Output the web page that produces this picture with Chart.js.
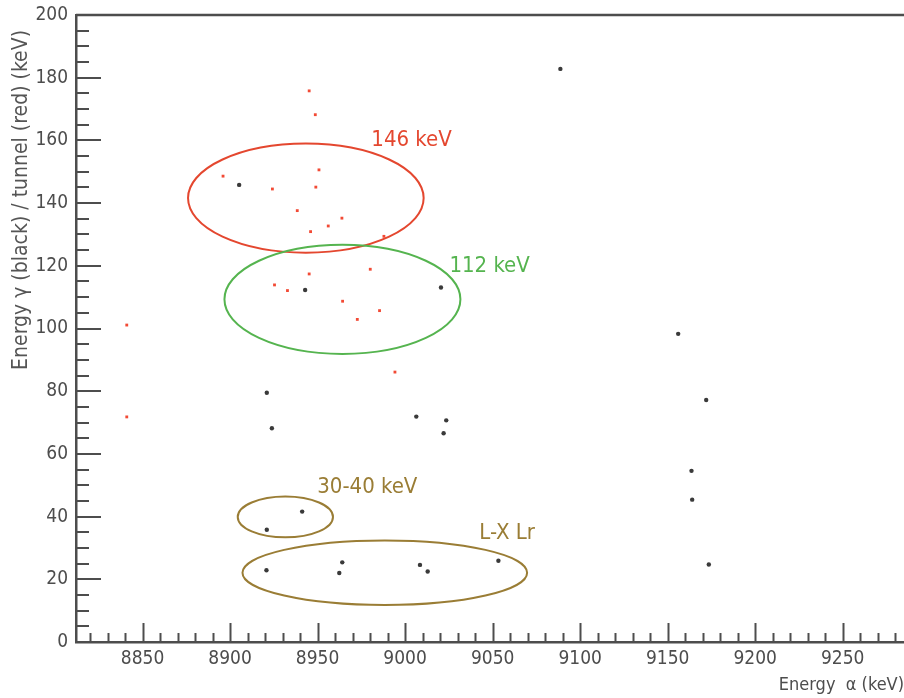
<!DOCTYPE html>
<html>
<head>
<meta charset="utf-8">
<script src="https://cdn.jsdelivr.net/npm/chart.js@4.4.1/dist/chart.umd.min.js"></script>
<style>
  html, body { margin: 0; padding: 0; background: #fff; }
  #wrap { width: 904px; height: 698px; }
</style>
</head>
<body>
<div id="wrap"><canvas id="chart" width="904" height="698"></canvas></div>
<script>
// gamma energies in coincidence with alphas (black)
var blackX = [8905.2, 8942.9, 9020.5, 9088.7, 8921.0, 8923.9, 9006.4, 9023.5, 9022.0, 9156.0, 9172.0,
              9163.6, 9164.0, 9173.5, 8941.2, 8921.0, 8920.8, 8964.1, 8962.4, 9008.5, 9012.9, 9053.3];
var blackY = [145.8, 112.3, 113.1, 182.8, 79.5, 68.2, 71.9, 70.7, 66.6, 98.3, 77.2,
              54.6, 45.4, 24.7, 41.6, 35.8, 22.9, 25.4, 22.0, 24.6, 22.5, 25.9];
// tunnel energies (red)
var redX = [8945.2, 8948.7, 8896.0, 8924.2, 8950.8, 8949.0, 8938.4, 8963.9, 8956.1, 8946.0, 8987.9,
            8945.2, 8980.1, 8925.4, 8932.8, 8964.3, 8985.4, 8972.7, 8994.2, 8841.0, 8841.0];
var redY = [175.8, 168.2, 148.6, 144.5, 150.6, 145.1, 137.6, 135.2, 132.7, 130.9, 129.4,
            117.4, 118.9, 113.9, 112.1, 108.7, 105.7, 102.9, 86.1, 101.1, 71.8];

// ellipses marking the groups + their labels
var groupNames  = ["146 keV", "112 keV", "30-40 keV", "L-X Lr"];
var groupColors = ["#e4472f", "#55b44f", "#9a7d35", "#9a7d35"];
var ellCx = [8943.3, 8964.2, 8931.6, 8988.4];
var ellCy = [141.6, 109.3, 39.9, 22.1];
var ellRx = [67.3, 67.4, 27.2, 81.3];
var ellRy = [17.4, 17.4, 6.5, 10.3];
var labelX = [8980.7, 9025.3, 8949.8, 9042.4];
var labelY = [160.1, 119.9, 49.4, 34.8];

var xMin = 8812, xMax = 9285, yMin = 0, yMax = 200;
var axisColor = "#4d4d4d";
var fontFam = "'Liberation Sans Narrow', 'DejaVu Sans Condensed', sans-serif";

function toPoints(xs, ys) {
    return xs.map(function (x, i) { return { x: x, y: ys[i] }; });
}

function noPad(s) {
    s.paddingLeft = 0; s.paddingRight = 0; s.paddingTop = 0; s.paddingBottom = 0;
}

// draws inward ticks, top frame, ellipses and their labels, y title
var decor = {
    id: "decor",
    beforeDatasetsDraw: function (chart) {
        var c = chart.ctx, a = chart.chartArea;
        var xs = chart.scales.x, ys = chart.scales.y;
        c.save();
        c.strokeStyle = axisColor;
        c.lineWidth = 2;
        xs.ticks.forEach(function (t) {
            var px = Math.round(xs.getPixelForValue(t.value)) + 0.5;
            var len = t.value % 50 === 0 ? 19 : 9;
            c.beginPath(); c.moveTo(px, a.bottom); c.lineTo(px, a.bottom - len); c.stroke();
        });
        ys.ticks.forEach(function (t) {
            var py = Math.round(ys.getPixelForValue(t.value));
            var len = t.value % 20 === 0 ? 25 : 13;
            c.beginPath(); c.moveTo(a.left, py); c.lineTo(a.left + len, py); c.stroke();
        });
        // top frame line
        c.lineWidth = 2.5;
        c.beginPath(); c.moveTo(a.left, a.top); c.lineTo(a.right, a.top); c.stroke();

        // ellipses
        c.lineWidth = 2;
        for (var i = 0; i < groupNames.length; i++) {
            var cx = xs.getPixelForValue(ellCx[i]), cy = ys.getPixelForValue(ellCy[i]);
            var rx = Math.abs(xs.getPixelForValue(ellCx[i] + ellRx[i]) - cx);
            var ry = Math.abs(ys.getPixelForValue(ellCy[i] + ellRy[i]) - cy);
            c.strokeStyle = groupColors[i];
            c.beginPath(); c.ellipse(cx, cy, rx, ry, 0, 0, Math.PI * 2); c.stroke();
            c.fillStyle = groupColors[i];
            c.font = "22px " + fontFam;
            c.textAlign = "left"; c.textBaseline = "middle";
            c.fillText(groupNames[i], xs.getPixelForValue(labelX[i]), ys.getPixelForValue(labelY[i]));
        }

        // y axis title
        c.translate(22, 30);
        c.rotate(-Math.PI / 2);
        c.fillStyle = "#555";
        c.font = "21px " + fontFam;
        c.textAlign = "right"; c.textBaseline = "middle";
        c.fillText("Energy \u03b3 (black) / tunnel (red) (keV)", 0, 0);
        c.restore();
    }
};

var ctx = document.getElementById("chart").getContext("2d");
var chart = new Chart(ctx, {
    type: "scatter",
    data: {
        datasets: [
            {
                label: "gamma",
                data: toPoints(blackX, blackY),
                backgroundColor: "#3a3a3a",
                borderWidth: 0,
                pointRadius: 2.2,
                pointStyle: "circle"
            },
            {
                label: "tunnel",
                data: toPoints(redX, redY),
                backgroundColor: "#f24a35",
                borderWidth: 0,
                pointRadius: 2,
                pointStyle: "rect"
            }
        ]
    },
    options: {
        responsive: false,
        animation: false,
        events: [],
        layout: { autoPadding: false, padding: { top: 15, right: 0, left: 0, bottom: 0 } },
        plugins: { legend: { display: false }, tooltip: { enabled: false } },
        scales: {
            x: {
                type: "linear",
                min: xMin, max: xMax,
                afterBuildTicks: function (s) { s.ticks = s.ticks.filter(function (t) { return t.value % 10 === 0; }); },
                afterFit: function (s) { s.height = 56; noPad(s); },
                ticks: {
                    stepSize: 10, autoSkip: false, maxRotation: 0, padding: 6, includeBounds: false,
                    color: axisColor, font: { family: fontFam, size: 19 },
                    callback: function (v) { return v % 50 === 0 ? String(v) : ""; }
                },
                grid: { display: false, drawTicks: false },
                border: { display: true, color: axisColor, width: 2.5 },
                title: {
                    display: true, text: "Energy  \u03b1 (keV)", align: "end",
                    color: axisColor, font: { family: fontFam, size: 18 },
                    padding: { top: 0, bottom: 2 }
                }
            },
            y: {
                type: "linear",
                min: yMin, max: yMax,
                afterBuildTicks: function (s) { s.ticks = s.ticks.filter(function (t) { return t.value % 5 === 0; }); },
                afterFit: function (s) { s.width = 76; noPad(s); },
                ticks: {
                    stepSize: 5, autoSkip: false, padding: 8, includeBounds: false,
                    color: axisColor, font: { family: fontFam, size: 19 },
                    callback: function (v) { return v % 20 === 0 ? String(v) : ""; }
                },
                grid: { display: false, drawTicks: false },
                border: { display: true, color: axisColor, width: 2.5 }
            }
        }
    },
    plugins: [decor]
});
</script>
</body>
</html>
